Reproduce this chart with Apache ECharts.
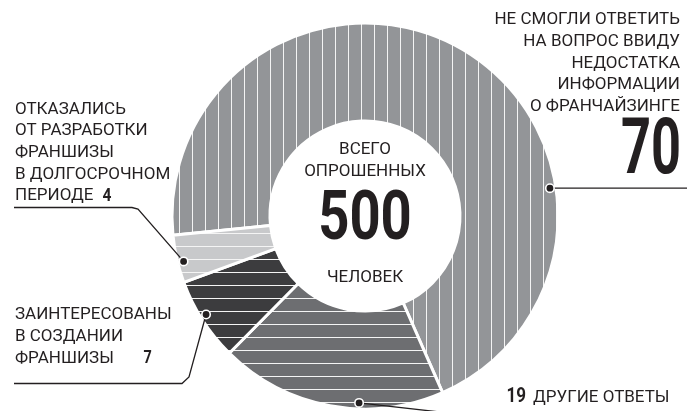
<!DOCTYPE html>
<html><head><meta charset="utf-8">
<script src="https://cdn.jsdelivr.net/npm/echarts@6/dist/echarts.min.js"></script>
<style>html,body{margin:0;padding:0;background:#fff}#c{width:687px;height:411px}</style>
</head><body><div id="c"></div>
<script>
// ---- data ----
const categories = [
  'Не смогли ответить на вопрос ввиду недостатка информации о франчайзинге',
  'Другие ответы',
  'Заинтересованы в создании франшизы',
  'Отказались от разработки франшизы в долгосрочном периоде'
];
const values = [70, 19, 7, 4];
const labelLines = [
  ['НЕ СМОГЛИ ОТВЕТИТЬ', 'НА ВОПРОС ВВИДУ', 'НЕДОСТАТКА', 'ИНФОРМАЦИИ', 'О ФРАНЧАЙЗИНГЕ'],
  ['ДРУГИЕ ОТВЕТЫ'],
  ['ЗАИНТЕРЕСОВАНЫ', 'В СОЗДАНИИ', 'ФРАНШИЗЫ'],
  ['ОТКАЗАЛИСЬ', 'ОТ РАЗРАБОТКИ', 'ФРАНШИЗЫ', 'В ДОЛГОСРОЧНОМ', 'ПЕРИОДЕ']
];
const centerTop = ['ВСЕГО', 'ОПРОШЕННЫХ'];
const centerBottom = ['ЧЕЛОВЕК'];
const totalRespondents = 500;

// ---- layout / style ----
const CX = 365, CY = 216, R_IN = 95, R_OUT = 193, START = 185.7;
const INK = '#231f20';
const REG = 'Roboto, "Open Sans", sans-serif';
const BOLD = 'Roboto, "Open Sans", sans-serif';
const TXT = '17px ' + REG;

function stripes(bg, vertical, offset) {
  const c = document.createElement('canvas');
  c.width = 13; c.height = 13;
  const g = c.getContext('2d');
  g.fillStyle = bg; g.fillRect(0, 0, 13, 13);
  g.fillStyle = '#f4f4f4';
  if (vertical) g.fillRect(offset, 0, 1, 13); else g.fillRect(0, offset, 13, 1);
  return c;
}
const sliceStyles = [
  stripes('#939598', true, 10),
  stripes('#6d6e71', false, 12),
  stripes('#3c3c3e', false, 12),
  stripes('#c8c9cb', false, 12)
];

// per-label layout
const labelLayout = [
  { x: 680, y0: 20, dy: 21.65, align: 'right', numX: 681, numY: 154, numSize: 77, numScale: 0.68, numAlign: 'right', anchor: 0.703 },
  { x: 533, y0: 397.5, dy: 0, align: 'left', numX: 506.5, numY: 396.5, numSize: 20, numScale: 0.85, numAlign: 'left', anchor: 0.373 },
  { x: 15, y0: 315, dy: 21.65, align: 'left', numX: 143.5, numY: 358, numSize: 18, numScale: 0.8, numAlign: 'left', anchor: 0.536 },
  { x: 15, y0: 109.5, dy: 21.65, align: 'left', numX: 102.5, numY: 196.5, numSize: 19, numScale: 0.82, numAlign: 'left', anchor: 0.42 }
];
const leaderTails = [
  null,
  [[440, 412]],
  [[189, 377], [182, 383.5], [14, 383.5]],
  [[138, 209], [132, 207.5], [14, 207.5]]
];

const total = values.reduce((a, b) => a + b, 0);
const graphics = [];
let cum = 0;
values.forEach((v, i) => {
  const L = labelLayout[i];
  labelLines[i].forEach((t, k) => {
    graphics.push({ type: 'text', z: 10, silent: true,
      style: { text: t, x: L.x, y: L.y0 + k * L.dy, fill: INK, font: TXT, align: L.align, verticalAlign: 'middle' } });
  });
  graphics.push({ type: 'text', z: 10, silent: true, x: L.numX, y: L.numY, scaleX: L.numScale,
    style: { text: String(v), x: 0, y: 0, fill: INK, font: 'bold ' + L.numSize + 'px ' + BOLD, align: L.numAlign, verticalAlign: 'middle' } });
  const ang = (START - (cum + L.anchor * v) / total * 360) * Math.PI / 180;
  const dx = CX + 187 * Math.cos(ang), dy = CY - 187 * Math.sin(ang);
  const tail = leaderTails[i] || [[690, dy]];
  graphics.push({ type: 'polyline', z: 9, silent: true,
    shape: { points: [[dx, dy]].concat(tail) }, style: { stroke: INK, lineWidth: 1.3, fill: null } });
  graphics.push({ type: 'circle', z: 11, silent: true,
    shape: { cx: dx, cy: dy, r: 4.2 }, style: { fill: INK, stroke: '#fff', lineWidth: 1.6 } });
  cum += v;
});
centerTop.forEach((t, k) => graphics.push({ type: 'text', z: 10, silent: true,
  style: { text: t, x: CX, y: 150 + k * 22, fill: INK, font: TXT, align: 'center', verticalAlign: 'middle' } }));
centerBottom.forEach((t) => graphics.push({ type: 'text', z: 10, silent: true,
  style: { text: t, x: CX, y: 278, fill: INK, font: TXT, align: 'center', verticalAlign: 'middle' } }));
graphics.push({ type: 'text', z: 10, silent: true, x: CX, y: 222, scaleX: 0.8,
  style: { text: String(totalRespondents), x: 0, y: 0, fill: INK, font: 'bold 68px ' + BOLD, align: 'center', verticalAlign: 'middle' } });

const chart = echarts.init(document.getElementById('c'));
chart.setOption({
  animation: false,
  backgroundColor: '#fff',
  series: [{
    type: 'pie',
    center: [CX, CY],
    radius: [R_IN, R_OUT],
    startAngle: START,
    clockwise: true,
    silent: true,
    emphasis: { disabled: true },
    label: { show: false },
    labelLine: { show: false },
    itemStyle: { borderColor: '#fff', borderWidth: 3 },
    data: values.map((v, i) => ({ value: v, name: categories[i],
      itemStyle: { color: { image: sliceStyles[i], repeat: 'repeat' } } }))
  }],
  graphic: graphics
});
</script></body></html>
